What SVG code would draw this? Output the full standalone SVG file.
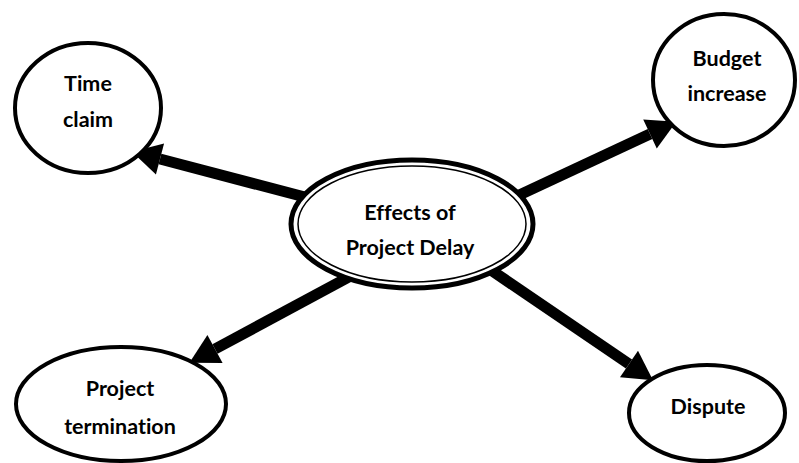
<svg xmlns="http://www.w3.org/2000/svg" width="799" height="463" viewBox="0 0 799 463">
<style>
.node{fill:#fff;stroke:#000;stroke-width:4}
.lbl{font-family:Lato,"Open Sans","Liberation Sans",sans-serif;font-weight:bold;font-size:21.5px;font-variant-ligatures:none;fill:#000;text-anchor:middle;dominant-baseline:central}
.conn{stroke:#000;stroke-width:11;fill:none;marker-end:url(#ah)}
</style>
<defs>
<marker id="ah" markerUnits="userSpaceOnUse" markerWidth="40" markerHeight="40" refX="0" refY="0" orient="auto" overflow="visible" viewBox="-5 -20 40 40">
<path d="M29,0 L0,-16 L0,16 Z" fill="#000"/>
</marker>
</defs>
<rect width="799" height="463" fill="#fff"/>
<g id="connectors">
<line class="conn" x1="320" y1="201" x2="160" y2="159"/>
<line class="conn" x1="500" y1="204" x2="650" y2="134"/>
<line class="conn" x1="360" y1="271" x2="215" y2="349"/>
<line class="conn" x1="485" y1="266" x2="629" y2="364"/>
</g>
<g id="center">
<ellipse cx="412" cy="224" rx="121" ry="64" fill="#fff" stroke="#000" stroke-width="5"/>
<ellipse cx="412" cy="224" rx="114" ry="58" fill="none" stroke="#000" stroke-width="1.5"/>
<text class="lbl" x="410" y="212">Effects of</text>
<text class="lbl" x="410" y="247">Project Delay</text>
</g>
<g id="time-claim">
<ellipse class="node" cx="88" cy="108" rx="73" ry="65"/>
<text class="lbl" x="88" y="83">Time</text>
<text class="lbl" x="88" y="119">claim</text>
</g>
<g id="budget-increase">
<ellipse class="node" cx="724" cy="80" rx="71" ry="66"/>
<text class="lbl" x="727" y="58">Budget</text>
<text class="lbl" x="727" y="93">increase</text>
</g>
<g id="project-termination">
<ellipse class="node" cx="121" cy="404" rx="105" ry="57"/>
<text class="lbl" x="120" y="388">Project</text>
<text class="lbl" x="120" y="426">termination</text>
</g>
<g id="dispute">
<ellipse class="node" cx="707" cy="413" rx="78" ry="48"/>
<text class="lbl" x="708" y="406">Dispute</text>
</g>
</svg>
